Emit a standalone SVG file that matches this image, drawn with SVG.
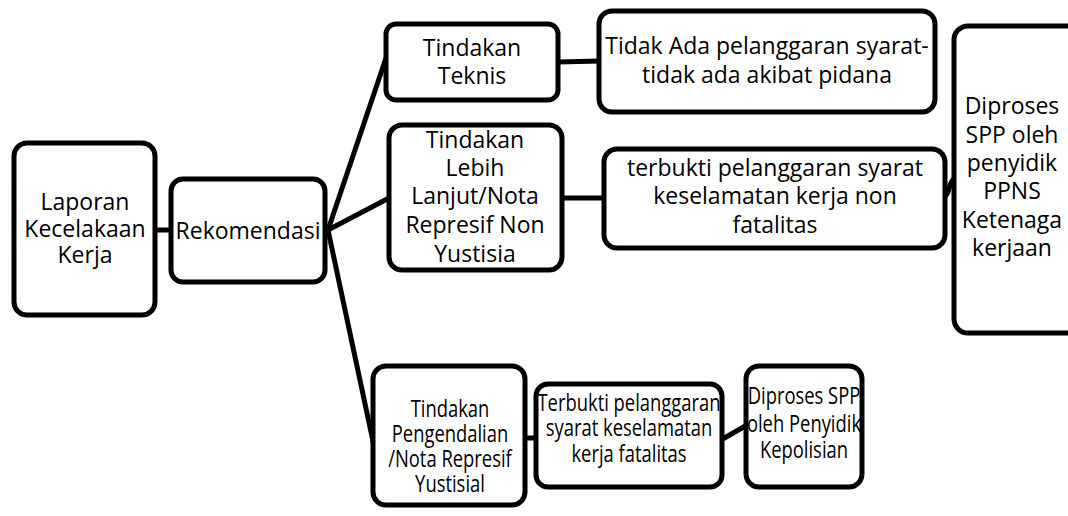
<svg xmlns="http://www.w3.org/2000/svg" width="1068" height="516" viewBox="0 0 1068 516">
  <style>
    .box { fill: #ffffff; stroke: #000000; stroke-width: 5; }
    .link { fill: none; stroke: #000000; stroke-width: 5; }
    text { font-family: "Open Sans", "Liberation Sans", sans-serif; font-size: 23px; fill: #000000; text-anchor: middle; }
  </style>
  <rect width="1068" height="516" fill="#ffffff"/>

  <g id="connectors">
    <line class="link" x1="155" y1="230" x2="172" y2="230"/>
    <line class="link" x1="328" y1="230" x2="386" y2="58"/>
    <line class="link" x1="328" y1="230" x2="389" y2="198"/>
    <line class="link" x1="328" y1="230" x2="377" y2="460"/>
    <line class="link" x1="558" y1="62" x2="600" y2="61"/>
    <line class="link" x1="562" y1="198" x2="605" y2="198"/>
    <path class="link" d="M945,196 C950,194 948,182 955,178"/>
    <line class="link" x1="525" y1="438" x2="537" y2="438"/>
    <line class="link" x1="721" y1="440" x2="747" y2="425"/>
  </g>

  <g id="laporan">
    <rect class="box" x="14" y="143" width="141" height="172" rx="13"/>
    <text x="85" y="210">Laporan</text>
    <text x="85" y="237">Kecelakaan</text>
    <text x="85" y="263">Kerja</text>
  </g>

  <g id="rekomendasi">
    <rect class="box" x="171" y="179" width="154" height="103" rx="12"/>
    <text x="248" y="239">Rekomendasi</text>
  </g>

  <g id="tindakan-teknis">
    <rect class="box" x="386" y="24" width="172" height="76" rx="10"/>
    <text x="472" y="56">Tindakan</text>
    <text x="472" y="84">Teknis</text>
  </g>

  <g id="tidak-ada">
    <rect class="box" x="599" y="11" width="336" height="101" rx="13"/>
    <text x="767" y="54">Tidak Ada pelanggaran syarat-</text>
    <text x="767" y="83">tidak ada akibat pidana</text>
  </g>

  <g id="tindakan-lanjut">
    <rect class="box" x="389" y="125" width="173" height="145" rx="13"/>
    <text x="475" y="148">Tindakan</text>
    <text x="475" y="176">Lebih</text>
    <text x="475" y="204">Lanjut/Nota</text>
    <text x="475" y="233">Represif Non</text>
    <text x="475" y="262">Yustisia</text>
  </g>

  <g id="non-fatalitas">
    <rect class="box" x="604" y="149" width="341" height="99" rx="13"/>
    <text x="775" y="176">terbukti pelanggaran syarat</text>
    <text x="775" y="204">keselamatan kerja non</text>
    <text x="775" y="233">fatalitas</text>
  </g>

  <g id="ppns">
    <rect class="box" x="954" y="26" width="130" height="307" rx="14"/>
    <text x="1012" y="114">Diproses</text>
    <text x="1012" y="143">SPP oleh</text>
    <text x="1012" y="171">penyidik</text>
    <text x="1012" y="199">PPNS</text>
    <text x="1012" y="228">Ketenaga</text>
    <text x="1012" y="256">kerjaan</text>
  </g>

  <!-- lower row: lettering set condensed horizontally -->
  <g id="tindakan-pengendalian">
    <rect class="box" x="373" y="366" width="152" height="139" rx="13"/>
    <g transform="matrix(0.8,0,0,1,90,0)">
      <text x="450" y="417">Tindakan</text>
      <text x="450" y="442">Pengendalian</text>
      <text x="450" y="467">/Nota Represif</text>
      <text x="450" y="492">Yustisial</text>
    </g>
  </g>

  <g id="fatalitas">
    <rect class="box" x="536" y="384" width="186" height="103" rx="12"/>
    <g transform="matrix(0.8,0,0,1,125.8,0)">
      <text x="629" y="411">Terbukti pelanggaran</text>
      <text x="629" y="436">syarat keselamatan</text>
      <text x="629" y="462">kerja fatalitas</text>
    </g>
  </g>

  <g id="kepolisian">
    <rect class="box" x="746" y="366" width="116" height="121" rx="13"/>
    <g transform="matrix(0.8,0,0,1,160.8,0)">
      <text x="804" y="404">Diproses SPP</text>
      <text x="804" y="432">oleh Penyidik</text>
      <text x="804" y="458">Kepolisian</text>
    </g>
  </g>
</svg>
